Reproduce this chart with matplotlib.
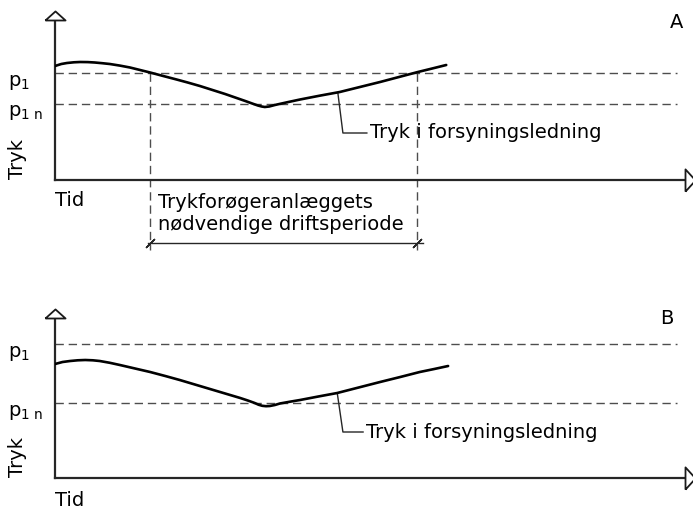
import matplotlib
matplotlib.use("Agg")
import matplotlib.pyplot as plt

plt.rcParams['font.family'] = ['DejaVu Sans']
FS = 14

# ---- data (time units 0..10, pressure units) ----
tA = [0.0, 0.10, 0.19, 0.30, 0.40, 0.52, 0.63, 0.75, 0.87, 1.03, 1.19, 1.35, 1.51, 1.70,
      1.90, 2.10, 2.30, 2.50, 2.70, 2.86, 3.02, 3.13, 3.22, 3.28, 3.33, 3.40, 3.49, 3.69,
      3.89, 4.20, 4.52, 4.84, 5.16, 5.46, 5.76, 6.00, 6.21]
pA = [1.14, 1.16, 1.17, 1.177, 1.18, 1.179, 1.175, 1.168, 1.16, 1.144, 1.125, 1.10, 1.075,
      1.043, 1.01, 0.976, 0.94, 0.90, 0.86, 0.825, 0.79, 0.765, 0.745, 0.735, 0.73, 0.735,
      0.75, 0.778, 0.805, 0.843, 0.88, 0.93, 0.98, 1.03, 1.08, 1.117, 1.15]
p1_A, p1n_A = 1.07, 0.765

tB = [0.0, 0.12, 0.24, 0.36, 0.48, 0.60, 0.71, 0.87, 1.03, 1.27, 1.51, 1.75, 1.98, 2.22,
      2.46, 2.70, 2.94, 3.06, 3.17, 3.23, 3.29, 3.35, 3.41, 3.49, 3.57, 3.73, 3.89, 4.18,
      4.48, 4.82, 5.16, 5.48, 5.79, 6.02, 6.24]
pB = [1.14, 1.16, 1.17, 1.177, 1.18, 1.177, 1.17, 1.152, 1.13, 1.095, 1.06, 1.02, 0.98,
      0.935, 0.89, 0.845, 0.80, 0.775, 0.75, 0.733, 0.722, 0.718, 0.72, 0.73, 0.745, 0.763,
      0.78, 0.815, 0.85, 0.905, 0.96, 1.01, 1.06, 1.09, 1.12]
p1_B, p1n_B = 1.34, 0.75

period_A = [1.51, 5.75]          # start / end of booster operating period
ytick_labels = [r'p$_\mathregular{1}$', r'p$_\mathregular{1\ n}$']
curve_label = 'Tryk i forsyningsledning'
period_text = ['Trykforøgeranlæggets', 'nødvendige driftsperiode']

XMAX, YMAX = 10.0, 1.6
DASH_END = 9.87

fig = plt.figure(figsize=(6.93, 5.08), dpi=100)
W, H = 693, 508
axA = fig.add_axes([55 / W, (H - 180) / H, 630 / W, 160 / H])
axB = fig.add_axes([55 / W, (H - 478) / H, 630 / W, 160 / H])

up_marker = [(-10, 0), (10, 0), (0, 9), (-10, 0)]
right_marker = [(0, -11), (0, 11), (10, 0), (0, -11)]


def setup(ax, t, p, p1, p1n, letter, letter_pos, leader, tid_y):
    ax.set_xlim(0, XMAX)
    ax.set_ylim(0, YMAX)
    ax.patch.set_visible(False)
    for s in ['top', 'right']:
        ax.spines[s].set_visible(False)
    for s in ['left', 'bottom']:
        ax.spines[s].set_linewidth(1.6)
        ax.spines[s].set_color('0.15')
    ax.set_xticks([])
    ax.set_yticks([p1, p1n])
    ax.set_yticklabels(ytick_labels, fontsize=FS, ha='left', va='top')
    ax.tick_params(axis='y', length=0, pad=34)
    ax.set_ylabel('Tryk', fontsize=FS)
    ax.yaxis.set_label_coords(-0.045, 0.13)
    # arrows
    ax.plot([0], [YMAX], marker=up_marker, markersize=14.5, mfc='white', mec='0.1',
            mew=1.3, clip_on=False, zorder=5)
    ax.plot([XMAX], [0], marker=right_marker, markersize=16, mfc='white', mec='0.1',
            mew=1.3, clip_on=False, zorder=5)
    # reference lines
    for lev in (p1, p1n):
        ax.plot([0, DASH_END], [lev, lev], color='0.3', lw=1.0, dashes=(6, 3.5))
    # curve
    ax.plot(t, p, color='black', lw=1.9, solid_capstyle='round', zorder=4)
    # leader + label
    lx, ly = leader
    ax.plot(lx, ly, color='0.15', lw=1.0)
    ax.text(lx[-1] + 0.05, ly[-1], curve_label, fontsize=FS, ha='left', va='center')
    ax.text(letter_pos[0], letter_pos[1], letter, fontsize=FS, ha='center', va='center')
    ax.text(0.0, tid_y, 'Tid', fontsize=FS, ha='left', va='center')


setup(axA, tA, pA, p1_A, p1n_A, 'A', (9.86, 1.58),
      ([4.49, 4.57, 4.95], [0.87, 0.47, 0.47]), -0.20)
setup(axB, tB, pB, p1_B, p1n_B, 'B', (9.71, 1.60),
      ([4.48, 4.57, 4.89], [0.85, 0.46, 0.46]), -0.22)

# operating period markings in panel A
for tx in period_A:
    axA.plot([tx, tx], [p1_A, -0.70], color='0.3', lw=1.0, dashes=(6, 3.5), clip_on=False)
axA.plot([period_A[0] - 0.04, period_A[1] + 0.09], [-0.63, -0.63], color='0.15', lw=1.0,
         clip_on=False)
axA.plot(period_A, [-0.63, -0.63], ls='none', marker=(2, 2, -45), markersize=9,
         mec='0.15', mew=1.0, clip_on=False)
axA.text(1.63, -0.23, period_text[0], fontsize=FS, ha='left', va='center')
axA.text(1.63, -0.45, period_text[1], fontsize=FS, ha='left', va='center')

fig.savefig('out.png', dpi=100)
